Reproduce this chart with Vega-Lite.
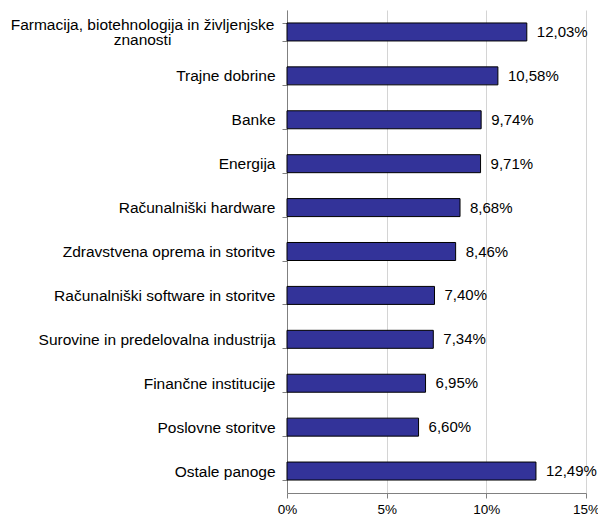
{
  "$schema": "https://vega.github.io/schema/vega-lite/v6.json",
  "width": 299,
  "height": 483,
  "autosize": "none",
  "padding": {"left": 287, "top": 10, "right": 12, "bottom": 24},
  "background": "white",
  "config": {
    "view": {"stroke": null},
    "font": "Liberation Sans",
    "locale": {"number": {"decimal": ",", "thousands": ".", "grouping": [3], "currency": ["", " €"]}}
  },
  "data": {
    "values": [
      {"panoga": "Farmacija, biotehnologija in življenjske znanosti", "delez": 0.1203},
      {"panoga": "Trajne dobrine", "delez": 0.1058},
      {"panoga": "Banke", "delez": 0.0974},
      {"panoga": "Energija", "delez": 0.0971},
      {"panoga": "Računalniški hardware", "delez": 0.0868},
      {"panoga": "Zdravstvena oprema in storitve", "delez": 0.0846},
      {"panoga": "Računalniški software in storitve", "delez": 0.0740},
      {"panoga": "Surovine in predelovalna industrija", "delez": 0.0734},
      {"panoga": "Finančne institucije", "delez": 0.0695},
      {"panoga": "Poslovne storitve", "delez": 0.0660},
      {"panoga": "Ostale panoge", "delez": 0.1249}
    ]
  },
  "encoding": {
    "y": {
      "field": "panoga",
      "type": "nominal",
      "sort": null,
      "scale": {"paddingInner": 0.59, "paddingOuter": 0.295},
      "axis": {
        "title": null,
        "grid": false,
        "tickBand": "extent",
        "domainColor": "#808080",
        "tickColor": "#808080",
        "tickSize": 5,
        "labelFontSize": 15.5,
        "labelColor": "#000000",
        "labelLimit": 400,
        "labelLineHeight": 15,
        "labelExpr": "datum.value == 'Farmacija, biotehnologija in življenjske znanosti' ? ['Farmacija, biotehnologija in življenjske', 'znanosti'] : datum.label",
        "labelAlign": {"condition": {"test": "datum.value == 'Farmacija, biotehnologija in življenjske znanosti'", "value": "center"}, "value": "right"},
        "labelPadding": {"condition": {"test": "datum.value == 'Farmacija, biotehnologija in življenjske znanosti'", "value": 140}, "value": 7},
        "labelOffset": {"condition": {"test": "datum.value == 'Farmacija, biotehnologija in življenjske znanosti'", "value": -7.5}, "value": 0}
      }
    },
    "x": {
      "field": "delez",
      "type": "quantitative",
      "scale": {"domain": [0, 0.15], "nice": false},
      "axis": {
        "title": null,
        "format": ".0%",
        "values": [0, 0.05, 0.1, 0.15],
        "grid": true,
        "gridColor": "#d4d4d4",
        "domainColor": "#808080",
        "tickColor": "#808080",
        "tickSize": 5,
        "labelFontSize": 13.5,
        "labelColor": "#000000",
        "labelPadding": 4,
        "labelFlush": false
      }
    }
  },
  "layer": [
    {"mark": {"type": "bar", "color": "#333399", "stroke": "#000000", "strokeWidth": 1}},
    {
      "mark": {"type": "text", "align": "left", "baseline": "middle", "dx": 10, "fontSize": 15, "color": "#000000"},
      "encoding": {"text": {"field": "delez", "type": "quantitative", "format": ".2%"}}
    }
  ]
}
